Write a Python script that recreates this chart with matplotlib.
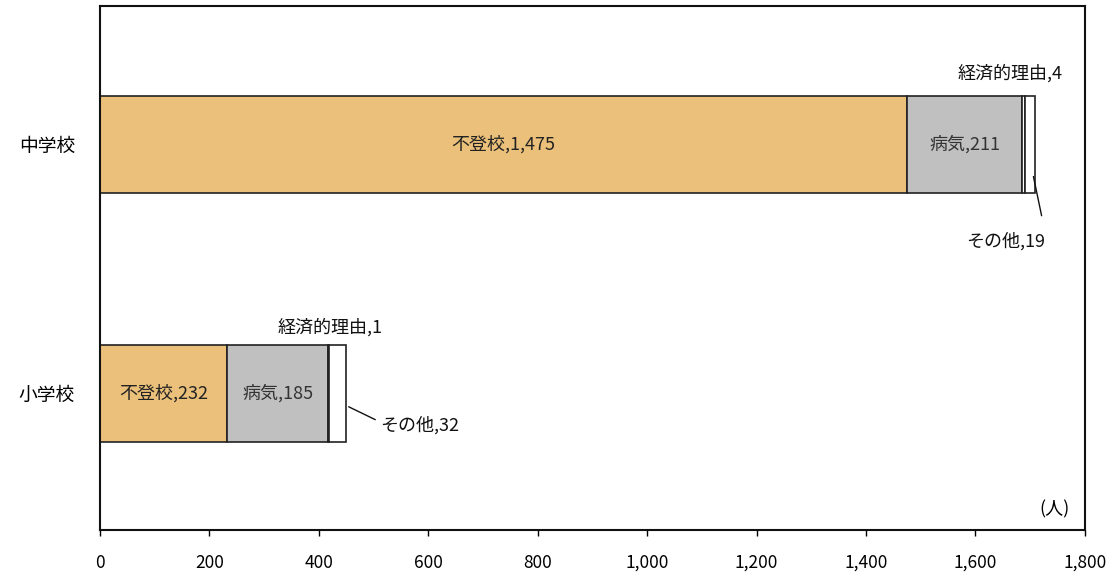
#!/usr/bin/env python3
"""Stacked horizontal bars: long-absence reasons by school level."""

import matplotlib

matplotlib.use("Agg")
import matplotlib.pyplot as plt
import numpy as np

plt.rcParams["font.family"] = ["Noto Sans CJK JP", "DejaVu Sans"]

SCHOOLS = ["小学校", "中学校"]
REASONS = ["不登校", "病気", "経済的理由", "その他"]
FUTOKO = [232, 1475]
BYOKI = [185, 211]
KEIZAI = [1, 4]
SONOTA = [32, 19]
X_TICKS = [0, 200, 400, 600, 800, 1000, 1200, 1400, 1600, 1800]

COLORS = {
    "不登校": "#EBC07A",
    "病気": "#C0C0C0",
    "経済的理由": "#FFFFFF",
    "その他": "#FFFFFF",
}

FS = 13


def main():
    fig = plt.figure(figsize=(11.07, 5.78), dpi=100)
    ax = fig.add_axes([0.0903, 0.083, 0.8897, 0.9066])

    y = np.arange(len(SCHOOLS))
    series = [FUTOKO, BYOKI, KEIZAI, SONOTA]
    left = np.zeros(len(SCHOOLS))
    for name, vals in zip(REASONS, series):
        vals = np.array(vals, dtype=float)
        ax.barh(y, vals, left=left, height=0.39, color=COLORS[name],
                edgecolor="#222222", linewidth=1.2)
        left = left + vals

    # labels inside the bars
    for i in range(len(SCHOOLS)):
        ax.text(FUTOKO[i] / 2, y[i], f"{REASONS[0]},{FUTOKO[i]:,}",
                ha="center", va="center", fontsize=FS, color="#222222")
        ax.text(FUTOKO[i] + BYOKI[i] / 2, y[i], f"{REASONS[1]},{BYOKI[i]:,}",
                ha="center", va="center", fontsize=FS, color="#333333")

    # small segments labelled outside
    end = [FUTOKO[i] + BYOKI[i] + KEIZAI[i] + SONOTA[i] for i in range(2)]
    # 中学校
    ax.text(1663, 1.285, f"{REASONS[2]},{KEIZAI[1]}", ha="center", va="center",
            fontsize=FS, color="#111111")
    ax.annotate(f"{REASONS[3]},{SONOTA[1]}", xy=(end[1] - 3, 0.87),
                xytext=(1655, 0.61), ha="center", va="center",
                fontsize=FS, color="#111111",
                arrowprops=dict(arrowstyle="-", color="#111111", lw=1.0,
                                shrinkA=10, shrinkB=0, relpos=(1.0, 1.0)))
    # 小学校
    ax.text(420, 0.265, f"{REASONS[2]},{KEIZAI[0]}", ha="center", va="center",
            fontsize=FS, color="#111111")
    ax.annotate(f"{REASONS[3]},{SONOTA[0]}", xy=(end[0], -0.05),
                xytext=(585, -0.128), ha="center", va="center",
                fontsize=FS, color="#111111",
                arrowprops=dict(arrowstyle="-", color="#111111", lw=1.0,
                                shrinkA=2, shrinkB=2, relpos=(0.0, 0.65)))

    ax.set_xlim(0, 1800)
    ax.set_ylim(-0.55, 1.555)
    ax.set_xticks(X_TICKS)
    ax.set_xticklabels([f"{t:,}" for t in X_TICKS], fontsize=12.5)
    ax.set_yticks(y)
    ax.set_yticklabels(SCHOOLS, fontsize=13.5)
    ax.tick_params(axis="x", direction="out", length=4, pad=13, width=1.0)
    ax.tick_params(axis="y", length=0, pad=18)
    for spine in ax.spines.values():
        spine.set_linewidth(1.5)
        spine.set_color("#111111")

    ax.text(0.985, 0.04, "(人)", transform=ax.transAxes, ha="right",
            va="center", fontsize=13)

    fig.savefig("out.png", dpi=100)
    plt.close(fig)


if __name__ == "__main__":
    main()
